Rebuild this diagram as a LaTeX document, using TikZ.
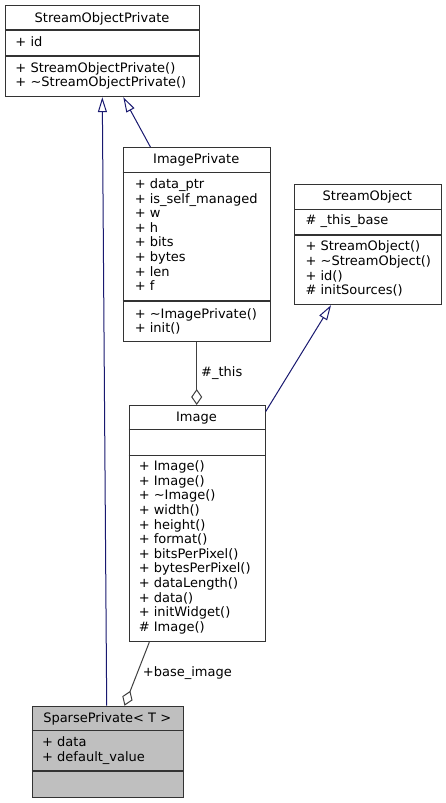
\documentclass[tikz,border=0pt]{standalone}
\usepackage{fontspec}
\setmainfont{DejaVu Sans}
\usetikzlibrary{arrows.meta}
\definecolor{inhcol}{HTML}{191970}
\definecolor{aggcol}{HTML}{404040}
\definecolor{spfill}{HTML}{BFBFBF}
\newcommand\umlfont{\fontsize{13}{14.6}\selectfont}
\newcommand\fl{\rule{0pt}{11pt}}
\begin{document}
\begin{tikzpicture}[x=1pt,y=-1pt,
  cls/.style={draw=black!80, line width=1.2pt, inner sep=0pt, anchor=north west, fill=white},
  divider/.style={draw=black!80, line width=1.2pt},
  ttl/.style={font=\umlfont, inner sep=0pt, anchor=base},
  mem/.style={font=\umlfont, inner sep=0pt, anchor=north west, align=left},
  lbl/.style={font=\umlfont, inner sep=0pt, anchor=base west},
  inh/.style={draw=inhcol, line width=1pt, -{Triangle[open, length=15pt, width=9pt]}},
  agg/.style={draw=aggcol, line width=1pt, -{Diamond[open, length=16pt, width=11pt]}}]
\useasboundingbox[fill=white] (0,0) rectangle (446,803);

% StreamObjectPrivate
\node[cls, minimum width=194pt, minimum height=91pt] (sop) at (5,5) {};
\draw[divider] (sop.west |- 0,30) -- (sop.east |- 0,30);
\draw[divider] (sop.west |- 0,56) -- (sop.east |- 0,56);
\node[ttl] (sopT) at (102,22) {StreamObjectPrivate};
\node[mem] (sopA) at (15.3,35.7) {\fl+ id};
\node[mem] (sopM) at (15.3,61) {\fl+ StreamObjectPrivate()\\+ \textasciitilde StreamObjectPrivate()};

% ImagePrivate
\node[cls, minimum width=147.5pt, minimum height=193.5pt] (ip) at (122.5,147) {};
\draw[divider] (ip.west |- 0,172.7) -- (ip.east |- 0,172.7);
\draw[divider] (ip.west |- 0,301) -- (ip.east |- 0,301);
\node[ttl] (ipT) at (196.25,163.3) {ImagePrivate};
\node[mem] (ipA) at (134.6,177.3) {\fl+ data\_ptr\\+ is\_self\_managed\\+ w\\+ h\\+ bits\\+ bytes\\+ len\\+ f};
\node[mem] (ipM) at (134.6,307) {\fl+ \textasciitilde ImagePrivate()\\+ init()};

% StreamObject
\node[cls, minimum width=146.7pt, minimum height=120pt] (so) at (294,184) {};
\draw[divider] (so.west |- 0,209.3) -- (so.east |- 0,209.3);
\draw[divider] (so.west |- 0,235) -- (so.east |- 0,235);
\node[ttl] (soT) at (367.35,200) {StreamObject};
\node[mem] (soA) at (305.4,213) {\fl\# \_this\_base};
\node[mem] (soM) at (305.4,239.7) {\fl+ StreamObject()\\+ \textasciitilde StreamObject()\\+ id()\\\# initSources()};

% Image
\node[cls, minimum width=136pt, minimum height=236pt] (img) at (128.5,405) {};
\draw[divider] (img.west |- 0,429.5) -- (img.east |- 0,429.5);
\draw[divider] (img.west |- 0,455.5) -- (img.east |- 0,455.5);
\node[ttl] (imgT) at (196.5,421) {Image};
\node[mem] (imgM) at (138.6,459.5) {\fl+ Image()\\+ Image()\\+ \textasciitilde Image()\\+ width()\\+ height()\\+ format()\\+ bitsPerPixel()\\+ bytesPerPixel()\\+ dataLength()\\+ data()\\+ initWidget()\\\# Image()};

% SparsePrivate< T >
\node[cls, fill=spfill, minimum width=151pt, minimum height=91pt] (sp) at (31.7,705.7) {};
\draw[divider] (sp.west |- 0,730.7) -- (sp.east |- 0,730.7);
\draw[divider] (sp.west |- 0,771) -- (sp.east |- 0,771);
\node[ttl] (spT) at (107.2,722.7) {SparsePrivate< T >};
\node[mem] (spA) at (42,735.5) {\fl+ data\\+ default\_value};

% connectors
\draw[inh] (sp.north -| 106.7,0) -- (sop.south -| 102.3,0);
\draw[inh] (ip.north -| 150.4,0) -- (sop.south -| 123.3,0);
\draw[inh] (img.east |- 0,411.5) -- (so.south -| 331,0);
\draw[agg] (ip.south -| 196.7,0) -- (img.north -| 196.7,0);
\node[lbl] (l1) at (201,376) {\#\_this};
\draw[agg] (img.south -| 149.3,0) -- (sp.north -| 124.5,0);
\node[lbl] (l2) at (142.7,676) {+base\_image};
\end{tikzpicture}
\end{document}
